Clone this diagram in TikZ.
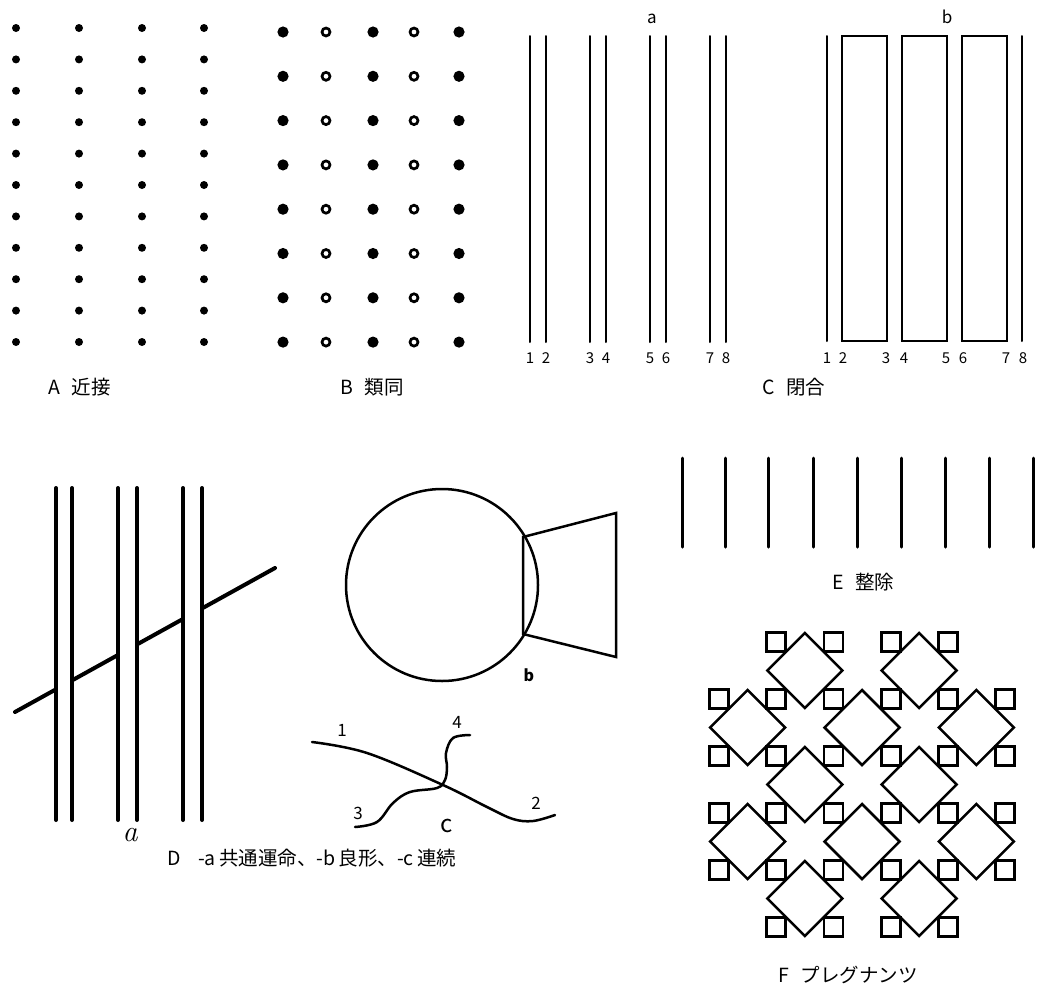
\documentclass[tikz,border=0pt]{standalone}
\usepackage{fontspec}
\newfontfamily\jp{Noto Sans CJK JP}
\begin{document}
\begin{tikzpicture}[x=1pt,y=-1pt,line cap=round,
  caption/.style={font=\jp\fontsize{19.5}{22}\selectfont,anchor=west,inner sep=0pt},
  num/.style={font=\jp\fontsize{15}{17}\selectfont,inner sep=0pt},
  lab/.style={font=\jp\fontsize{17}{19}\selectfont,inner sep=0pt},
  thinline/.style={line width=2pt},
  thickline/.style={line width=4pt},
  figline/.style={line width=2.5pt,line join=miter},
  tinybox/.style={line width=2.8pt,fill=white,line join=miter},
  diam/.style={line width=2.5pt,line join=miter}]
\useasboundingbox (0,0) rectangle (1054,991);
% ---------- A ----------
\foreach \x in {16,79,142,204}{
  \foreach \j in {0,...,10}{\fill (\x,{28+31.4*\j}) circle[radius=4];}}
\node[caption] (capA) at (48,387) {A\hspace{0.6em}近接};
% ---------- B ----------
\foreach \x in {283,373,459}{
  \foreach \j in {0,...,7}{\fill (\x,{32+44.3*\j}) circle[radius=5.6];}}
\foreach \x in {326,414}{
  \foreach \j in {0,...,7}{\draw[line width=2.7pt] (\x,{32+44.3*\j}) circle[radius=4];}}
\node[caption] (capB) at (340,387) {B\hspace{0.6em}類同};
% ---------- C ----------
\foreach \x/\l in {530/1,546/2,590/3,606/4,650/5,666/6,710/7,726/8}{
  \draw[thinline] (\x,36) -- (\x,342);
  \node[num] (ca\l) at (\x,358) {\l};}
\node[lab] (Ca) at (652,19) {a};
\draw[thinline] (827,36) -- (827,341);
\draw[thinline,line join=miter] (842,36) rectangle (887,341);
\draw[thinline,line join=miter] (902,36) rectangle (947,341);
\draw[thinline,line join=miter] (962,36) rectangle (1007,341);
\draw[thinline] (1022,36) -- (1022,341);
\foreach \x/\l in {827/1,843/2,886/3,904/4,946/5,963/6,1006/7,1023/8}{
  \node[num] (cb\l) at (\x,358) {\l};}
\node[lab] (Cb) at (947,17) {b};
\node[caption] (capC) at (762,387) {C\hspace{0.6em}閉合};
% ---------- D-a ----------
\draw[thickline] (15,712) -- (275,568);
\foreach \xa/\xb in {56/72,118/137,183/202}{
  \fill[white] (\xa,560) rectangle (\xb,720);}
\foreach \x in {56,72,118,137,183,202}{\draw[thickline] (\x,488) -- (\x,820);}
\node[font=\fontsize{30}{32}\selectfont\itshape,inner sep=0pt] (Da) at (130,835) {a};
% ---------- D-b ----------
\draw[figline] (442,585) circle[radius=96];
\draw[figline] (523,537) -- (616,513) -- (616,657) -- (523,634) -- cycle;
\node[font=\jp\bfseries\fontsize{16}{18}\selectfont,inner sep=0pt] (Db) at (529,675) {b};
% ---------- D-c ----------
\draw[figline] plot[smooth,tension=0.6] coordinates {(312,742) (367,753) (443,785) (487,807) (513,819) (533,821) (555,815)};
\draw[figline] plot[smooth,tension=0.6] coordinates {(355,827) (377,822) (393,803) (410,792) (437,788) (445,780) (447,767) (446,753) (453,738) (470,735)};
\node[lab] (Dc1) at (342,730) {1};
\node[lab] (Dc4) at (457,722) {4};
\node[lab] (Dc3) at (358,813) {3};
\node[lab] (Dc2) at (536,803) {2};
\node[font=\jp\fontsize{24}{26}\selectfont,inner sep=0pt] (Dc) at (447,826) {c};
\node[caption] (capD) at (167,858) {D\hspace{0.9em}-a\,共通運命、-b\,良形、-c\,連続};
% ---------- E ----------
\foreach \x in {682,725,768,813,857,901,945,989,1033}{
  \draw[line width=3pt] (\x,458) -- (\x,547);}
\node[caption] (capE) at (832,582) {E\hspace{0.6em}整除};
% ---------- F ----------
\foreach \i/\j in {1/0,3/0,0/1,2/1,4/1,1/2,3/2,0/3,2/3,4/3,1/4,3/4}{
  \draw[diam] ({719+57.2*(\i+0.5)-37.5},{642+57*(\j+0.5)})
     -- ({719+57.2*(\i+0.5)},{642+57*(\j+0.5)-37.5})
     -- ({719+57.2*(\i+0.5)+37.5},{642+57*(\j+0.5)})
     -- ({719+57.2*(\i+0.5)},{642+57*(\j+0.5)+37.5}) -- cycle;}
\foreach \i/\j in {1/0,2/0,3/0,4/0,
  0/1,1/1,2/1,3/1,4/1,5/1,
  0/2,1/2,2/2,3/2,4/2,5/2,
  0/3,1/3,2/3,3/3,4/3,5/3,
  0/4,1/4,2/4,3/4,4/4,5/4,
  1/5,2/5,3/5,4/5}{
  \draw[tinybox] ({719+57.2*\i-9.5},{642+57*\j-9.5}) rectangle ({719+57.2*\i+9.5},{642+57*\j+9.5});}
\node[caption] (capF) at (778,975) {F\hspace{0.6em}プレグナンツ};
\end{tikzpicture}
\end{document}
